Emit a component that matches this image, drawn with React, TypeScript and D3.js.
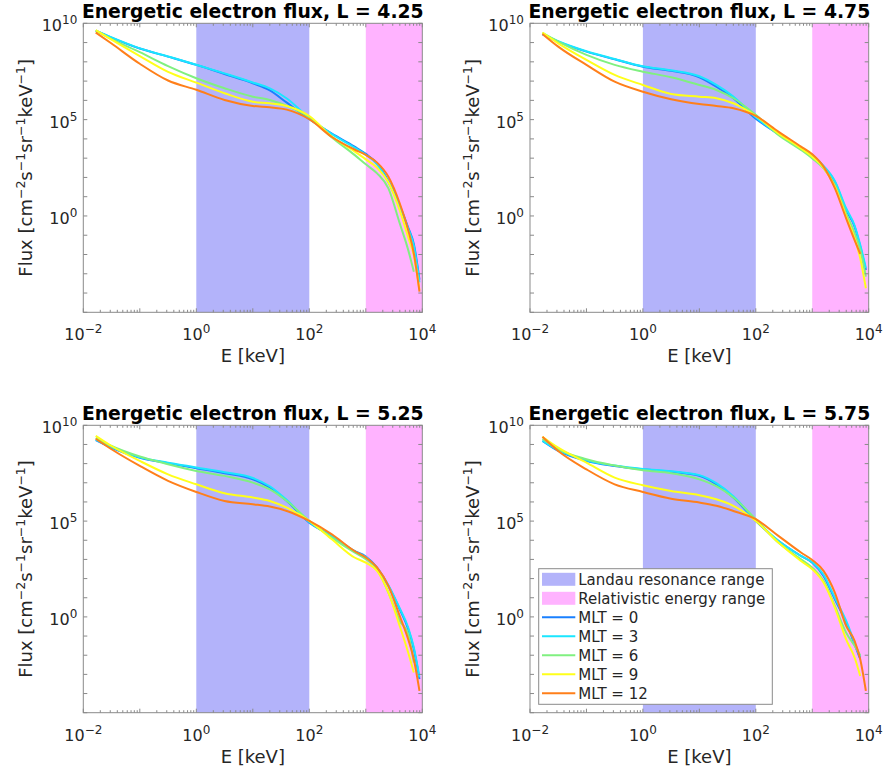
import React from 'react';
import * as d3 from 'd3';

// Energy grid (keV) shared by all spectra
const ENERGY_KEV = [0.0166, 0.0316, 0.1, 0.316, 1, 3.16, 10, 20, 40, 100, 251, 631, 1000, 1585, 2512, 3981, 5623, 7079, 8913];

const MLT_LABELS = ['MLT = 0', 'MLT = 3', 'MLT = 6', 'MLT = 9', 'MLT = 12'];
const MLT_COLORS = ['#1a80ff', '#1ae6ff', '#80f080', '#ffff1a', '#ff7f1a'];
const L_SHELLS = ['4.25', '4.75', '5.25', '5.75'];

// Energy bands (keV)
const LANDAU_RANGE = [1, 100];
const RELATIVISTIC_RANGE = [1000, 10000];

// log10 of flux [cm^-2 s^-1 sr^-1 keV^-1]; null where a spectrum stops
const LOG_FLUX_L425 = [
  [9.62, 9.26, 8.69, 8.27, 7.84, 7.37, 6.89, 6.52, 5.88, 5.03, 4.27, 3.6, 3.22, 2.73, 1.8, 0.55, -0.6, -1.45, -3.3],
  [9.62, 9.27, 8.7, 8.28, 7.85, 7.4, 6.93, 6.62, 6.1, 5.08, 4.25, 3.55, 3.18, 2.68, 1.75, 0.5, -0.65, -1.55, -3.45],
  [9.62, 9.18, 8.5, 7.78, 7.15, 6.63, 6.19, 6.02, 5.71, 5.12, 4.08, 3.17, 2.68, 2.21, 1.43, -0.38, -1.76, -2.89, null],
  [9.65, 9.15, 8.3, 7.48, 6.92, 6.37, 5.93, 5.85, 5.71, 5.19, 4.12, 3.35, 2.94, 2.5, 1.75, 0.3, -1.1, -2.05, -3.84],
  [9.52, 8.95, 7.9, 7.03, 6.55, 6.02, 5.71, 5.64, 5.52, 5.02, 4.1, 3.45, 3.17, 2.77, 2.04, 0.66, -0.73, -1.94, -3.93],
];
const LOG_FLUX_L475 = [
  [9.43, 9.05, 8.53, 8.13, 7.75, 7.53, 7.2, 6.71, 6.11, 5.05, 4.25, 3.51, 3.17, 2.56, 1.78, 0.31, -0.55, -1.59, -2.8],
  [9.45, 9.07, 8.55, 8.15, 7.77, 7.56, 7.25, 6.8, 6.2, 5.12, 4.25, 3.5, 3.15, 2.6, 1.82, 0.4, -0.5, -1.5, -2.7],
  [9.5, 9.05, 8.36, 7.84, 7.49, 7.2, 6.8, 6.54, 6.11, 5.25, 4.2, 3.43, 2.99, 2.47, 1.61, 0.14, -0.9, -1.76, -3.15],
  [9.52, 8.96, 8.1, 7.32, 6.8, 6.33, 6.19, 6.11, 5.85, 5.19, 4.29, 3.51, 3.08, 2.51, 1.52, -0.03, -1.16, -2.2, -3.75],
  [9.45, 8.79, 7.84, 6.97, 6.45, 6.06, 5.81, 5.71, 5.59, 5.19, 4.38, 3.6, 3.2, 2.56, 1.44, -0.12, -1.25, -1.97, null],
];
const LOG_FLUX_L525 = [
  [9.23, 8.83, 8.31, 8.02, 7.76, 7.5, 7.18, 6.75, 6.05, 4.92, 4.23, 3.44, 3.15, 2.57, 1.62, 0.4, -0.64, -1.69, -3.25],
  [9.25, 8.85, 8.33, 8.05, 7.8, 7.55, 7.25, 6.82, 6.1, 4.95, 4.2, 3.42, 3.12, 2.55, 1.65, 0.45, -0.55, -1.6, -3.15],
  [9.35, 8.92, 8.37, 7.97, 7.62, 7.36, 7.01, 6.66, 6.05, 5.01, 4.14, 3.36, 3.01, 2.49, 1.27, -0.2, -0.9, -2.38, null],
  [9.45, 8.92, 8.14, 7.44, 6.92, 6.45, 6.23, 6.05, 5.7, 5.01, 4.05, 3.1, 2.83, 2.4, 1.27, -0.47, -1.86, -2.9, null],
  [9.3, 8.75, 7.88, 7.1, 6.52, 6.05, 5.88, 5.76, 5.53, 5.01, 4.31, 3.44, 3.1, 2.57, 1.62, 0.05, -1.17, -2.21, -3.86],
];
const LOG_FLUX_L575 = [
  [9.18, 8.66, 8.14, 7.88, 7.7, 7.57, 7.36, 6.92, 6.23, 5.01, 3.97, 3.18, 2.83, 2.14, 0.92, -0.3, -1.43, -2.2, null],
  [9.2, 8.7, 8.18, 7.9, 7.72, 7.6, 7.4, 6.98, 6.3, 5.05, 3.97, 3.18, 2.85, 2.2, 1.0, -0.2, -1.35, -2.1, null],
  [9.3, 8.76, 8.23, 7.9, 7.65, 7.5, 7.18, 6.82, 6.23, 5.1, 3.88, 3.01, 2.57, 1.88, 0.57, -0.82, -1.51, -2.0, null],
  [9.4, 8.83, 8.05, 7.27, 6.87, 6.57, 6.35, 6.14, 5.8, 5.01, 3.88, 2.92, 2.49, 1.79, 0.49, -1.17, -2.12, -3.08, null],
  [9.4, 8.66, 7.7, 6.92, 6.52, 6.17, 5.97, 5.8, 5.53, 5.1, 4.23, 3.36, 2.97, 2.4, 1.27, -0.47, -1.25, -2.21, -3.86],
];
const LOG_FLUX = [LOG_FLUX_L425, LOG_FLUX_L475, LOG_FLUX_L525, LOG_FLUX_L575];

const X_DOMAIN = [1e-2, 1e4];
const Y_DOMAIN = [1e-5, 1e10];
const X_LABEL_EXPONENTS = [-2, 0, 2, 4];
const Y_LABEL_EXPONENTS = [0, 5, 10];

const FONT = '"DejaVu Sans", Verdana, sans-serif';
const AXIS_COLOR = '#8a8a8a';
const TEXT_COLOR = '#262626';

const PANELS = [
  { left: 83.3, right: 422.3, top: 23.3, bottom: 312.3 },
  { left: 530, right: 868.7, top: 23.3, bottom: 312.3 },
  { left: 83.3, right: 422.3, top: 425.3, bottom: 712.7 },
  { left: 530, right: 868.7, top: 425.3, bottom: 712.7 },
];

// exponent text with a true minus sign
const fmtExp = (e: number) => (e < 0 ? `\u2212${-e}` : String(e));

function Pow10({ exp, x, y, anchor }: { exp: number; x: number; y: number; anchor: string }) {
  return (
    <text x={x} y={y} textAnchor={anchor} fontFamily={FONT} fontSize={16} fill={TEXT_COLOR}>
      <tspan>10</tspan>
      <tspan dy={-7} fontSize={12}>{fmtExp(exp)}</tspan>
    </text>
  );
}

function Panel({ index, showLegend }: { index: number; showLegend: boolean }) {
  const p = PANELS[index];
  const x = d3.scaleLog().domain(X_DOMAIN).range([p.left, p.right]);
  const y = d3.scaleLog().domain(Y_DOMAIN).range([p.bottom, p.top]);
  const clipId = `clip-${index}`;

  const line = d3
    .line<[number, number]>()
    .x((d) => x(d[0]))
    .y((d) => y(d[1]))
    .curve(d3.curveMonotoneX);

  const series = LOG_FLUX[index].map((vals) =>
    vals
      .map((v, i) => (v === null ? null : ([ENERGY_KEV[i], Math.pow(10, v)] as [number, number])))
      .filter((d): d is [number, number] => d !== null)
  );

  const xMinor: number[] = [];
  for (let e = -2; e < 4; e++) {
    for (let k = 2; k <= 9; k++) xMinor.push(k * Math.pow(10, e));
  }
  const xMajor = d3.range(-2, 5).map((e) => Math.pow(10, e));
  const yMajor = d3.range(-5, 11).map((e) => Math.pow(10, e));

  const cx = (p.left + p.right) / 2;
  const cy = (p.top + p.bottom) / 2;
  const sup = (t: string) => (
    <>
      <tspan dy={-7} fontSize={12.5}>{t}</tspan>
    </>
  );

  return (
    <g>
      <defs>
        <clipPath id={clipId}>
          <rect x={p.left} y={p.top} width={p.right - p.left} height={p.bottom - p.top} />
        </clipPath>
      </defs>
      <rect x={x(LANDAU_RANGE[0])} y={p.top} width={x(LANDAU_RANGE[1]) - x(LANDAU_RANGE[0])} height={p.bottom - p.top} fill="#b3b3fa" />
      <rect x={x(RELATIVISTIC_RANGE[0])} y={p.top} width={x(RELATIVISTIC_RANGE[1]) - x(RELATIVISTIC_RANGE[0])} height={p.bottom - p.top} fill="#ffb3ff" />
      <g clipPath={`url(#${clipId})`}>
        {series.map((s, i) => (
          <path key={i} d={line(s) || ''} fill="none" stroke={MLT_COLORS[i]} strokeWidth={2} strokeLinejoin="round" />
        ))}
      </g>
      {/* ticks */}
      <g stroke={AXIS_COLOR} strokeWidth={1}>
        {xMinor.map((v, i) => (
          <g key={`xm${i}`}>
            <line x1={x(v)} x2={x(v)} y1={p.bottom} y2={p.bottom - 2.5} />
            <line x1={x(v)} x2={x(v)} y1={p.top} y2={p.top + 2.5} />
          </g>
        ))}
        {xMajor.map((v, i) => (
          <g key={`xM${i}`}>
            <line x1={x(v)} x2={x(v)} y1={p.bottom} y2={p.bottom - 4} />
            <line x1={x(v)} x2={x(v)} y1={p.top} y2={p.top + 4} />
          </g>
        ))}
        {yMajor.map((v, i) => (
          <g key={`yM${i}`}>
            <line x1={p.left} x2={p.left + 4} y1={y(v)} y2={y(v)} />
            <line x1={p.right} x2={p.right - 4} y1={y(v)} y2={y(v)} />
          </g>
        ))}
      </g>
      <rect x={p.left} y={p.top} width={p.right - p.left} height={p.bottom - p.top} fill="none" stroke={AXIS_COLOR} strokeWidth={1} />
      {X_LABEL_EXPONENTS.map((e) => (
        <Pow10 key={`xl${e}`} exp={e} x={x(Math.pow(10, e))} y={p.bottom + 28} anchor="middle" />
      ))}
      {Y_LABEL_EXPONENTS.map((e) => (
        <Pow10 key={`yl${e}`} exp={e} x={p.left - 6} y={y(Math.pow(10, e)) + 8} anchor="end" />
      ))}
      <text x={cx} y={p.bottom + 50} textAnchor="middle" fontFamily={FONT} fontSize={18} fill={TEXT_COLOR}>
        E [keV]
      </text>
      <text transform={`translate(${p.left - 51},${cy}) rotate(-90)`} textAnchor="middle" fontFamily={FONT} fontSize={18} fill={TEXT_COLOR}>
        <tspan>Flux [cm</tspan>
        {sup('\u22122')}
        <tspan dy={7}>s</tspan>
        {sup('\u22121')}
        <tspan dy={7}>sr</tspan>
        {sup('\u22121')}
        <tspan dy={7}>keV</tspan>
        {sup('\u22121')}
        <tspan dy={7}>]</tspan>
      </text>
      <text x={cx} y={p.top - 5} textAnchor="middle" fontFamily={FONT} fontSize={18.8} fontWeight="bold" fill="#000">
        {`Energetic electron flux, L = ${L_SHELLS[index]}`}
      </text>
      {showLegend && <Legend left={p.left + 8.7} top={p.bottom - 144} />}
    </g>
  );
}

function Legend({ left, top }: { left: number; top: number }) {
  const rowH = 19;
  const rows = [
    { label: 'Landau resonance range', kind: 'patch', color: '#b3b3fa' },
    { label: 'Relativistic energy range', kind: 'patch', color: '#ffb3ff' },
    ...MLT_LABELS.map((l, i) => ({ label: l, kind: 'line', color: MLT_COLORS[i] })),
  ];
  return (
    <g>
      <rect x={left} y={top} width={233.6} height={135.6} fill="#fff" stroke={AXIS_COLOR} strokeWidth={1} />
      {rows.map((r, i) => {
        const yc = top + 10.6 + i * rowH;
        return (
          <g key={i}>
            {r.kind === 'patch' ? (
              <rect x={left + 3.3} y={yc - 6.5} width={33.3} height={13} fill={r.color} />
            ) : (
              <line x1={left + 3.3} x2={left + 36.6} y1={yc} y2={yc} stroke={r.color} strokeWidth={2} />
            )}
            <text x={left + 39.5} y={yc + 5.3} fontFamily={FONT} fontSize={15} fill={TEXT_COLOR}>
              {r.label}
            </text>
          </g>
        );
      })}
    </g>
  );
}

export default function App() {
  return (
    <svg width={886} height={772} style={{ position: 'absolute', left: 0, top: 0, background: '#fff' }}>
      <rect width={886} height={772} fill="#fff" />
      {PANELS.map((_, i) => (
        <Panel key={i} index={i} showLegend={i === 3} />
      ))}
    </svg>
  );
}
